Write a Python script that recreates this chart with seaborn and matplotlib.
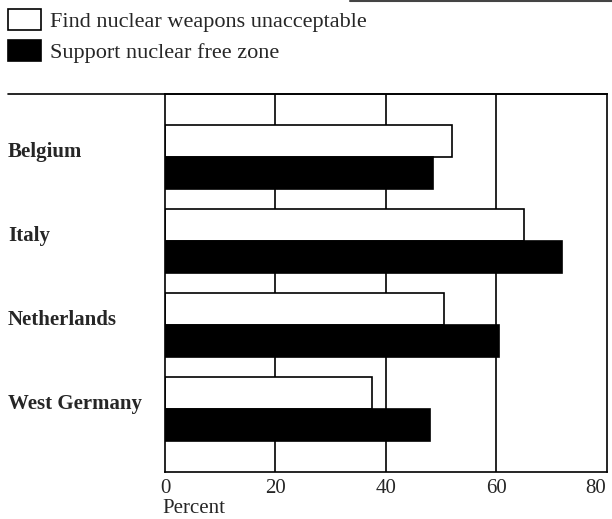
import numpy as np
import pandas as pd
import matplotlib
matplotlib.use('Agg')
import matplotlib.pyplot as plt
from matplotlib.lines import Line2D
import seaborn as sns

# values
countries = ['Belgium', 'Italy', 'Netherlands', 'West Germany']
unacceptable = [52, 65, 50.5, 37.5]
free_zone = [48.5, 72, 60.5, 48]
series = ['Find nuclear weapons unacceptable', 'Support nuclear free zone']
xticks = [0, 20, 40, 60, 80]

df = pd.DataFrame({
    'country': countries * 2,
    'percent': unacceptable + free_zone,
    'series': [series[0]] * len(countries) + [series[1]] * len(countries),
})

sns.set_style('white')
plt.rcParams['font.family'] = ['Liberation Serif', 'DejaVu Serif']

fig = plt.figure(figsize=(6.12, 5.19), dpi=100)
ax = fig.add_axes([165 / 612, 1 - 472 / 519, (606.5 - 165) / 612, (472 - 94) / 519])

# grid lines sit behind the bars
for v in xticks[1:-1]:
    ax.axvline(v, color='black', lw=1.2, zorder=0)

sns.barplot(data=df, y='country', x='percent', hue='series', order=countries,
            hue_order=series, palette=['white', 'black'], width=0.76,
            edgecolor='black', linewidth=1.2, saturation=1, ax=ax, zorder=2)

ax.set_xlim(0, 80)
ax.set_ylim(3.75, -0.75)
ax.set_xticks(xticks)
ax.set_xticklabels([str(t) for t in xticks], fontsize=15)
ax.tick_params(axis='x', length=0, pad=5)
# the last label is pulled in so it stays on the page
ax.get_xticklabels()[-1].set_horizontalalignment('right')
ax.get_xticklabels()[-1].set_x(80.3)
ax.set_yticks([])
ax.set_ylabel('')
ax.set_xlabel('Percent', fontsize=15, loc='left', labelpad=1)
ax.xaxis.label.set_x(-0.007)
for s in ax.spines.values():
    s.set_color('black')
    s.set_linewidth(1.2)

# country names, left aligned at the page edge
for i, c in enumerate(countries):
    ax.text(-0.3556, i, c, transform=ax.get_yaxis_transform(), ha='left',
            va='baseline', fontsize=15, fontweight='bold')

handles, labels = ax.get_legend_handles_labels()
ax.get_legend().remove()
fig.legend(handles, labels, loc='upper left', bbox_to_anchor=(8 / 612, 1 - 9 / 519),
           frameon=False, fontsize=16, handlelength=1.49, handleheight=1.05,
           handletextpad=0.4, labelspacing=0.36, borderpad=0, borderaxespad=0)

# rule across the top of the panel and the stray rule from the page above
fig.add_artist(Line2D([8 / 612, 606.5 / 612], [1 - 94 / 519] * 2, color='black', lw=1.2))
fig.add_artist(Line2D([350 / 612, 1.0], [1 - 1 / 519] * 2, color='#444444', lw=1.5))

fig.savefig('out.png', dpi=100)
